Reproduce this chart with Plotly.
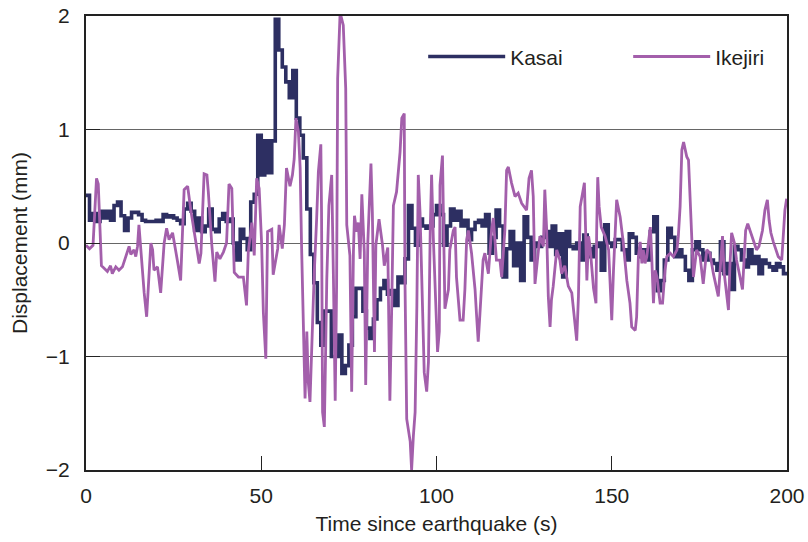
import plotly.graph_objects as go

# ---- Kasai (1 s sampling, step trace) ----
kasai_t = list(range(0, 201))
kasai_v = [
    0.42, 0.20, 0.26, 0.19, 0.28, 0.22, 0.28, 0.20, 0.33, 0.36,   # 0-9
    0.24, 0.11, 0.22, 0.27, 0.27, 0.25, 0.20, 0.19, 0.19, 0.19,   # 10-19
    0.20, 0.19, 0.25, 0.23, 0.24, 0.22, 0.20, 0.17, 0.30, 0.35,   # 20-29
    0.28, 0.11, 0.22, 0.10, 0.15, 0.30, 0.12, 0.10, 0.21, 0.26,   # 30-39
    0.19, 0.21, 0.00, -0.15, 0.12, 0.04, -0.06, 0.36, 0.43, 0.95, # 40-49
    0.60, 0.90, 0.62, 0.90, 1.97, 1.70, 1.55, 1.42, 1.28, 1.52,   # 50-59
    1.10, 0.95, 0.75, 0.30, -0.10, -0.35, -0.70, -0.90, -0.60, -0.60,  # 60-69
    -1.00, -1.00, -0.81, -1.15, -1.08, -0.90, -0.65, -0.40, -0.40, -0.60,  # 70-79
    -0.75, -0.84, -0.67, -0.50, -0.40, -0.33, -0.45, -0.42, -0.55, -0.30,  # 80-89
    -0.35, -0.14, 0.33, 0.13, -0.02, 0.21, 0.15, 0.13, 0.15, 0.25,   # 90-99
    0.33, 0.25, -0.02, 0.15, 0.30, 0.20, 0.28, 0.15, 0.20, 0.03,     # 100-109
    0.12, 0.18, 0.20, 0.15, 0.25, -0.09, 0.05, 0.29, 0.15, -0.30,    # 110-119
    -0.05, 0.10, -0.20, 0.00, -0.33, 0.23, 0.05, -0.15, 0.00, -0.03, # 120-129
    0.05, 0.10, -0.03, 0.15, -0.10, 0.08, -0.30, 0.10, -0.03, -0.05, # 130-139
    0.00, -0.15, 0.07, -0.05, -0.12, -0.03, 0.00, -0.24, 0.16, 0.00, # 140-149
    -0.03, 0.03, 0.03, -0.06, -0.15, 0.08, 0.05, -0.09, -0.12, -0.06,  # 150-159
    -0.15, 0.10, 0.23, -0.42, -0.33, -0.15, 0.13, 0.05, -0.12, -0.06,  # 160-169
    -0.12, -0.24, -0.33, -0.06, 0.01, -0.06, -0.15, -0.09, -0.15, -0.18,  # 170-179
    -0.24, 0.01, -0.27, -0.18, -0.41, -0.03, -0.06, -0.15, -0.21, -0.06,  # 180-189
    -0.18, -0.12, -0.27, -0.15, -0.18, -0.21, -0.24, -0.18, -0.21, -0.27,  # 190-199
    -0.28,                                                              # 200
]

# ---- Ikejiri (irregular sampling) ----
ikejiri_t = [
    0, 1, 2, 3.0, 3.5, 4.4, 5.1, 6.1, 7.0, 7.5, 8.5, 9.4, 10.4, 11.3, 12.3, 12.8,
    13.7, 14.2, 14.7, 15.1, 16.1, 16.6, 17.3, 18.0, 18.5, 19.0, 19.4, 20.4, 21.3,
    22.3, 23.0, 23.7, 24.7, 26.1, 27.0, 28.0, 29.0, 29.9, 30.9, 32.3, 32.8, 33.7,
    34.5, 34.9, 35.9, 36.8, 37.3, 38.2, 39.2, 40.1, 40.8, 41.6, 42.3, 43.5, 44.9,
    45.8, 46.3, 47.3, 48.0, 48.7, 49.4, 50.1, 50.6, 51.3, 51.8, 53.0, 53.4, 54.7,
    55.1, 56.0, 56.6, 57.2, 58.2, 58.9, 59.4, 59.9, 60.6, 61.1, 61.5, 62.0, 62.5,
    63.0, 63.4, 63.9, 64.4, 65.1, 65.8, 66.3, 67.0, 67.2, 67.5, 68.0, 68.4, 68.7,
    69.3, 70.1, 70.6, 71.1, 71.5, 71.8, 72.5, 73.4, 74.1, 74.4, 75.3, 75.8, 76.3,
    76.6, 77.2, 77.7, 78.2, 78.7, 79.4, 79.8, 80.4, 80.8, 81.3, 81.7, 82.3, 82.7,
    83.6, 84.6, 85.1, 86.1, 86.5, 86.7, 87.2, 87.7, 88.6, 89.6, 90.1, 90.8, 91.0,
    91.5, 92.5, 92.9, 93.4, 93.9, 94.4, 94.8, 95.3, 95.8, 96.5, 97.2, 97.7, 98.2,
    98.6, 99.1, 99.8, 100.3, 100.8, 101.0, 101.7, 101.9, 102.4, 103.4, 103.8,
    104.8, 105.3, 105.7, 106.7, 107.6, 108.1, 108.6, 109.1, 110.0, 111.0, 111.4,
    111.9, 112.4, 112.9, 113.3, 113.8, 114.8, 115.7, 116.2, 117.1, 118.1, 118.6,
    119.5, 120.0, 120.5, 121.4, 122.4, 123.3, 124.3, 125.7, 126.4, 127.1, 127.6,
    128.1, 129.0, 129.5, 130.5, 130.9, 131.4, 131.9, 132.4, 132.8, 133.3, 134.3,
    135.2, 135.7, 136.6, 137.6, 138.6, 139.6, 140.0, 140.5, 141.0, 142.2, 142.6,
    142.9, 143.4, 143.8, 144.8, 145.5, 145.7, 146.0, 146.4, 147.0, 148.1, 149.1,
    149.5, 150.0, 150.5, 151.0, 151.4, 152.4, 153.3, 154.3, 155.2, 155.7, 156.7,
    157.1, 157.6, 158.1, 158.6, 159.0, 159.5, 160.0, 160.5, 161.0, 161.4, 161.9,
    162.4, 162.9, 163.8, 164.5, 165.2, 165.7, 166.7, 167.6, 168.6, 169.0, 169.5,
    170.0, 170.5, 171.4, 171.9, 172.3, 172.8, 173.3, 174.2, 175.2, 176.1, 177.1,
    178.0, 179.0, 180.4, 180.9, 181.6, 182.1, 182.8, 183.3, 183.7, 184.2, 185.0,
    185.6, 186.6, 187.3, 187.8, 188.2, 188.8, 189.4, 190.4, 191.3, 192.0, 193.0,
    193.7, 194.4, 194.9, 195.4, 196.1, 196.8, 197.5, 198.5, 199.0, 199.4, 199.9,
]
ikejiri_v = [
    -0.02, -0.05, -0.02, 0.57, 0.52, -0.20, -0.22, -0.25, -0.20, -0.27, -0.21, -0.24, -0.21, -0.12, -0.03, -0.10,
    -0.06, -0.12, -0.03, 0.16, -0.30, -0.44, -0.65, -0.30, 0.00, -0.06, -0.24, -0.21, -0.44,
    0.00, 0.13, 0.03, 0.09, -0.16, -0.33, 0.47, 0.50, 0.29, 0.11, -0.18, -0.09, 0.61,
    0.60, 0.45, -0.02, -0.34, -0.08, -0.14, -0.08, 0.00, 0.52, 0.48, -0.26, -0.30, -0.30,
    -0.55, -0.08, 0.18, -0.11, 0.57, 0.48, 0.00, -0.61, -1.02, 0.10, 0.12, -0.28, -0.05,
    0.16, -0.05, 0.16, 0.66, 0.50, 0.60, 0.74, 1.10, 0.98, 0.66, -0.02, -0.60, -1.37,
    -0.78, -1.22, -1.40, -0.90, -0.28, 0.21, 0.63, 0.87, 0.27, -1.49, -1.62, -0.90, -0.32,
    0.33, 0.60, -0.32, -1.39, -0.37, 1.45, 2.03, 1.92, 1.36, 0.16, -0.11, -1.31, -0.08,
    0.24, 0.10, 0.18, -0.14, 0.43, -0.08, -1.25, 0.00, 0.33, 0.70, 0.27, -0.96, -0.02,
    0.21, -0.02, -0.20, -0.04, -0.78, -1.39, -0.60, 0.33, 0.45, 0.80, 1.10, 1.14, -0.32,
    -1.55, -1.75, -2.00, -1.70, -1.49, -0.55, 0.60, 0.27, -0.40, -1.14, -1.31, -1.05, 0.10,
    0.60, 0.04, -0.55, -0.96, -0.78, 0.51, 0.77, 0.39, -0.58, -0.41, -0.06,
    0.11, 0.14, -0.30, -0.68, -0.68, -0.41, 0.03, 0.11, -0.09, -0.41, -0.62,
    -0.87, -0.62, -0.38, -0.15, -0.09, -0.27, 0.11, 0.22, -0.15, -0.15, -0.30,
    0.11, 0.64, 0.67, 0.53, 0.41, 0.44, 0.35, 0.29, 0.57, 0.64, 0.41,
    -0.36, -0.06, 0.06, -0.03, 0.47, 0.14, -0.47, -0.74, -0.50, -0.38, -0.06,
    -0.15, -0.27, -0.20, -0.38, -0.44, -0.77, -0.86, -0.47, 0.32, 0.53, -0.03,
    -0.33, 0.06, -0.03, -0.40, -0.53, 0.11, 0.58, 0.32, 0.14, 0.06, -0.06,
    -0.33, -0.68, -0.24, 0.20, 0.38, 0.23, 0.00, -0.33, -0.53, -0.74, -0.77,
    -0.65, -0.12, 0.01, -0.18, -0.06, -0.18, -0.12, 0.03, 0.14, -0.12, -0.53,
    -0.24, -0.30, -0.53, -0.53, -0.24, -0.12, -0.09, -0.12, -0.06, 0.06, 0.32,
    0.82, 0.89, 0.76, 0.73, 0.47, 0.09, -0.30, -0.06, -0.12, -0.36, -0.06,
    -0.09, -0.27, -0.47, -0.21, 0.06, -0.27, -0.44, -0.59, -0.21, 0.09, 0.00,
    -0.15, -0.30, -0.41, -0.12, 0.11, 0.17, 0.11, 0.03, -0.06, -0.03, 0.11,
    0.29, 0.38, 0.20, 0.09, 0.01, -0.06, -0.12, -0.15, 0.11, 0.29, 0.39,
]

x_ticks = [0, 50, 100, 150, 200]
y_ticks = [-2, -1, 0, 1, 2]

FONT = "Liberation Sans, Arial, Helvetica, sans-serif"
TXT = "#231f20"
FS = 21

fig = go.Figure()
fig.add_trace(go.Scatter(
    x=kasai_t, y=kasai_v, name="Kasai", mode="lines",
    line=dict(color="#2d2f62", width=3.6, shape="hv"),
))
fig.add_trace(go.Scatter(
    x=ikejiri_t, y=ikejiri_v, name="Ikejiri", mode="lines",
    line=dict(color="#a35fab", width=2.8),
))

fig.update_layout(
    width=808, height=542,
    margin=dict(l=86, r=21, t=16, b=72, autoexpand=False),
    paper_bgcolor="white", plot_bgcolor="white",
    font=dict(family=FONT, size=FS, color=TXT),
    showlegend=True,
    legend=dict(
        orientation="h", x=0.481, y=0.91, xanchor="left", yanchor="middle",
        bgcolor="rgba(0,0,0,0)", font=dict(size=FS, color=TXT),
        itemwidth=77, entrywidth=113, entrywidthmode="pixels",
    ),
)
fig.update_xaxes(
    range=[0, 200], tickvals=x_ticks, ticks="inside", ticklen=14, tickwidth=1.2,
    tickcolor="#222", showline=True, linecolor="#222", linewidth=2, mirror=True,
    showgrid=False, zeroline=False, ticklabelstandoff=6,
    title=dict(text="Time since earthquake (s)", standoff=10, font=dict(size=FS)),
    tickfont=dict(size=FS),
)
fig.update_yaxes(
    range=[-2, 2], tickvals=y_ticks, ticks="inside", ticklen=14, tickwidth=1.2,
    tickcolor="#222", showline=True, linecolor="#222", linewidth=2, mirror=True,
    showgrid=True, gridcolor="#666", gridwidth=1, zeroline=False,
    ticklabelstandoff=10,
    title=dict(text="Displacement (mm)", standoff=12, font=dict(size=FS)),
    tickfont=dict(size=FS),
)

fig.write_html(
    "out.html",
    config={"displayModeBar": False},
    post_script="document.body.style.margin='0';document.body.style.overflow='hidden';",
)
